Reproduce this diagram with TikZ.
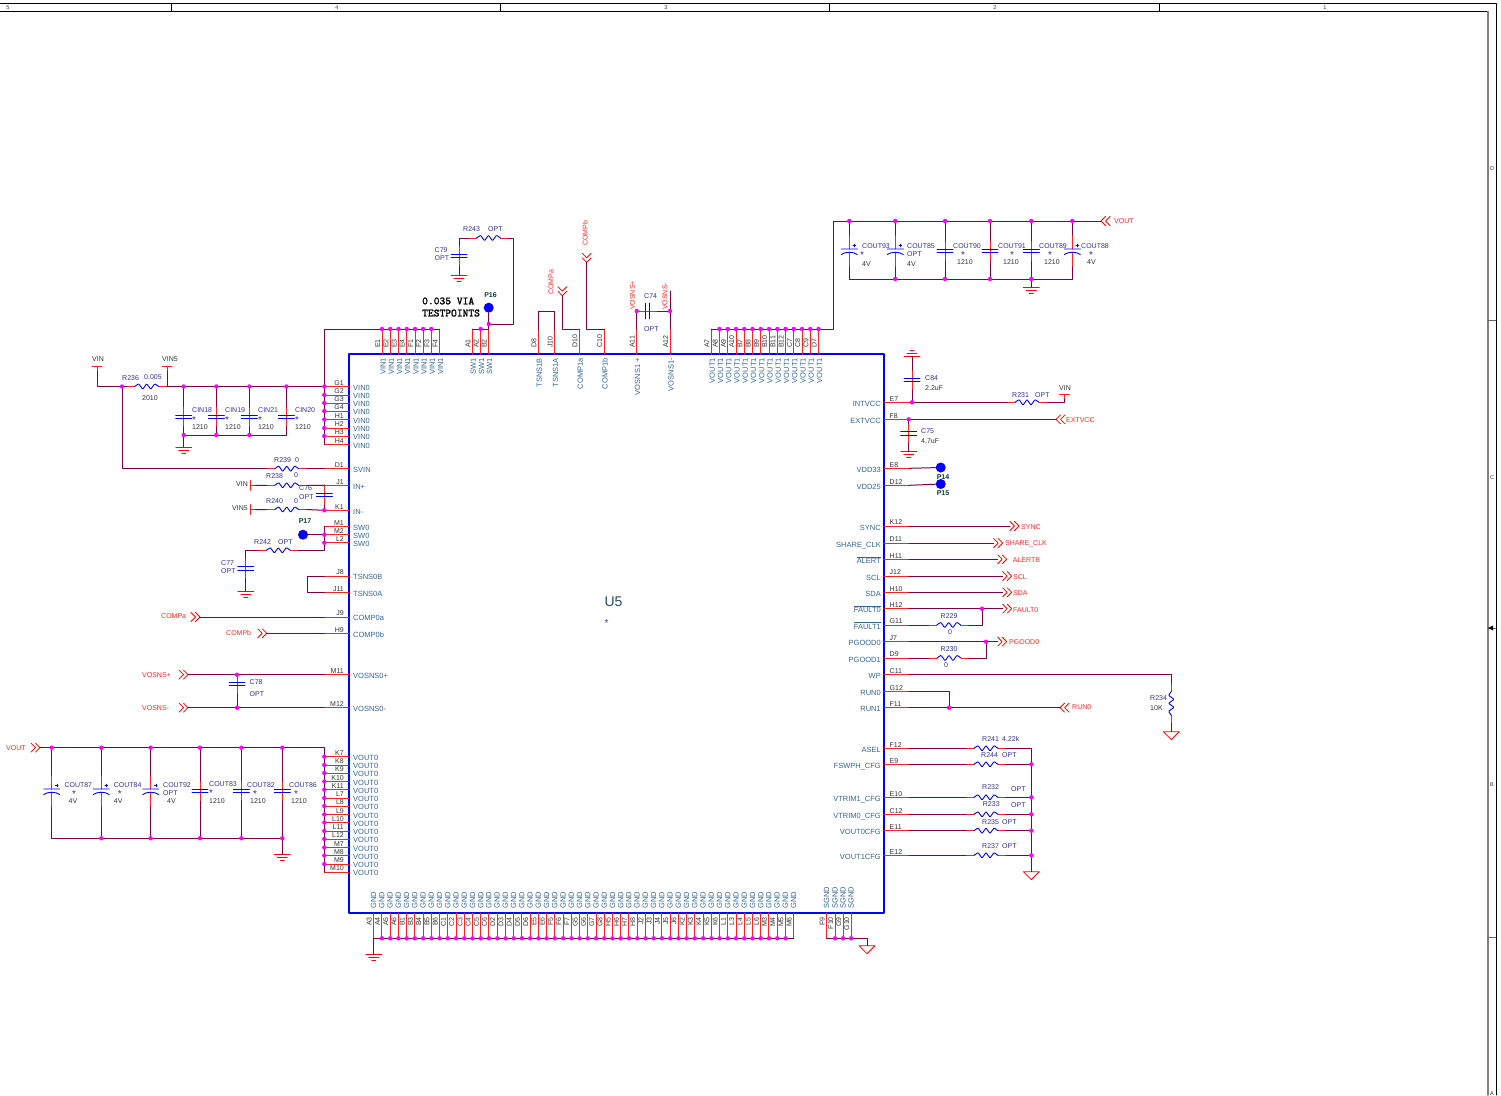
\documentclass[tikz,border=0pt]{standalone}
\usepackage{fontspec}
\setmainfont{Liberation Sans}
\setsansfont{Liberation Sans}
\newfontfamily\notefont[FakeBold=1.6]{Latin Modern Mono}
\usetikzlibrary{calc,positioning}
\definecolor{wirecol}{HTML}{800040}
\definecolor{pincol}{HTML}{FF2020}
\definecolor{boxcol}{HTML}{0000FF}
\definecolor{refcol}{HTML}{333399}
\definecolor{sigcol}{HTML}{336699}
\definecolor{numcol}{HTML}{333333}
\definecolor{netcol}{HTML}{FF2A2A}
\definecolor{dotcol}{HTML}{FF00FF}
\tikzset{
wire/.style={draw=wirecol,line width=1pt},
pinline/.style={draw=pincol,line width=1pt},
partline/.style={draw=blue,line width=.9pt},
netline/.style={draw=red,line width=.75pt},
txt/.style={font=\fontsize{7}{8}\selectfont,inner sep=0pt},
pinnum/.style={txt,text=numcol},
sigl/.style={inner sep=0pt,text=sigcol,font=\fontsize{7.5}{8}\selectfont},
reflab/.style={txt,text=refcol,anchor=west},
vallab/.style={txt,text=numcol,anchor=west},
netlab/.style={txt,text=netcol,anchor=west,yshift=-.6pt},
starlab/.style={inner sep=0pt,text=refcol,font=\fontsize{10}{10}\selectfont},
tp/.style={circle,fill=boxcol,inner sep=0pt,minimum size=10pt},
tplab/.style={txt,text=teal!50!black,font=\fontsize{7}{8}\selectfont\bfseries},
rzig/.pic={
\draw[pinline] (-20,0)--(-12,0) (12,0)--(20,0);
\draw[partline,rounded corners=.8pt] (-12,0)--(-8,-2.8)--(-4,2.8)--(0,-2.8)--(4,2.8)--(8,-2.8)--(12,0);
\coordinate (-l) at (-20,0);
\coordinate (-r) at (20,0);
},
capn/.pic={
\draw[pinline] (0,-10)--(0,10);
\draw[partline] (-8,-1.7)--(8,-1.7) (-8,1.7)--(8,1.7);
\coordinate (-a) at (0,-10);
\coordinate (-b) at (0,10);
},
capp/.pic={
\draw[pinline] (0,-16)--(0,-2) (0,1)--(0,16);
\draw[partline] (-8,-2)--(8,-2) (-8,3.5) .. controls (-4,.5) and (4,.5) .. (8,3.5);
\draw[partline,line width=.3pt] (3.5,-5.5)--(6.5,-5.5) (5,-7)--(5,-4);
\coordinate (-a) at (0,-16);
\coordinate (-b) at (0,16);
},
gnd/.pic={
\draw[netline] (-8,0)--(8,0) (-5,3)--(5,3) (-2,6)--(2,6);
\coordinate (-a) at (0,0);
},
tri/.pic={
\draw[netline] (-8,0)--(8,0)--(0,8)--cycle;
\coordinate (-a) at (0,0);
},
tbar/.pic={
\draw[pinline] (-5,0)--(5,0) (0,0)--(0,5);
\coordinate (-a) at (0,5);
},
flag/.pic={
\draw[netline] (4.5,-4.5)--(0,0)--(4.5,4.5) (9,-4.5)--(4.5,0)--(9,4.5);
\coordinate (-a) at (0,0);
\coordinate (-b) at (9,0);
},
}
\begin{document}
\begin{tikzpicture}[x=1pt,y=-1pt,line join=round,line cap=round]
\path[use as bounding box,fill=white] (0,0) rectangle (1501,1095);
% sheet frame
\draw[black,line width=.7pt] (0,3.5)--(1496,3.5)--(1496,1095) (0,11.5)--(1488,11.5);
\draw[black!50,line width=1.5pt] (1488,11.5)--(1488,1095);
\foreach \x in {171,500,829,1159}{\draw[black,line width=.7pt] (\x,3.5)--(\x,11.5);}
\foreach \y in {320,628,937}{\draw[black!60,line width=.7pt] (1488,\y)--(1496,\y);}
\fill[black] (1488,628)--(1493,625.5)--(1493,630.5)--cycle;
\foreach \k/\x in {5/8,4/337,3/666,2/995,1/1325}{\node[txt,text=numcol,font=\fontsize{5.5}{6}\selectfont] (zone\k) at (\x,7.5) {\k};}
\foreach \k/\y in {D/169,C/478,B/785,A/1094}{\node[txt,text=numcol,font=\fontsize{5.5}{6}\selectfont] (row\k) at (1492,\y) {\k};}
% U5 body
\draw[boxcol,line width=2.2pt] (349,354) rectangle (884,913);
\node[txt,text=sigcol!70!black,font=\fontsize{14}{16}\selectfont] (U5) at (613.5,601.5) {U5};
\node[starlab] (U5s) at (606.5,623.5) {*};
% left pins
\foreach \n/\y/\s in {G1/386.5/VIN0,G2/395/VIN0,G3/403/VIN0,G4/411/VIN0,H1/419.5/VIN0,H2/428/VIN0,H3/436/VIN0,H4/444.5/VIN0,D1/468.7/SVIN,J1/485.3/IN+,K1/510.3/IN-,M1/526.3/SW0,M2/534.7/SW0,L2/542.7/SW0,J8/576/TSNS0B,J11/592.3/TSNS0A,J9/617/COMP0a,H9/633.3/COMP0b,M11/674.7/VOSNS0+,M12/707.7/VOSNS0-,K7/756.7/VOUT0,K8/765/VOUT0,K9/773/VOUT0,K10/781.5/VOUT0,K11/789.7/VOUT0,L7/798/VOUT0,L8/806/VOUT0,L9/814.5/VOUT0,L10/822.5/VOUT0,L11/831/VOUT0,L12/839/VOUT0,M7/847.5/VOUT0,M8/855.5/VOUT0,M9/864/VOUT0,M10/872/VOUT0}{
\coordinate (\n) at (324.3,\y);
\draw[pinline] (349,\y)--(\n);
\node[pinnum,anchor=base east] (n\n) at (344,\y-1.3) {\n};
\node[sigl,anchor=base west] (s\n) at (353,\y+3.8) {\s};
}
% right pins
\foreach \n/\y/\s in {E7/402.3/INTVCC,F8/419.3/EXTVCC,E8/468.3/VDD33,D12/485.3/VDD25,K12/526/SYNC,D11/543/SHARE\_CLK,H11/559.3/{$\overline{\mbox{ALERT}}$},J12/576/SCL,H10/592.3/SDA,H12/608.7/{$\overline{\mbox{FAULT0}}$},G11/625/{$\overline{\mbox{FAULT1}}$},J7/641.7/PGOOD0,D9/658/PGOOD1,C11/674.7/WP,G12/691.3/RUN0,F11/707.7/RUN1,F12/748.3/ASEL,E9/764.3/FSWPH\_CFG,E10/797.3/VTRIM1\_CFG,C12/814.3/VTRIM0\_CFG,E11/830.7/VOUT0CFG,E12/855.3/VOUT1CFG}{
\coordinate (\n) at (909,\y);
\draw[pinline] (884,\y)--(\n);
\node[pinnum,anchor=base west] (n\n) at (889.5,\y-1.3) {\n};
\node[sigl,anchor=base east] (s\n) at (881,\y+4.2) {\s};
}
% top pins
\foreach \n/\x/\s in {E1/382/VIN1,E2/390.3/VIN1,E3/398.5/VIN1,E4/406.7/VIN1,F1/415/VIN1,F2/423/VIN1,F3/431.3/VIN1,F4/439.5/VIN1,A1/472.3/SW1,A2/480.7/SW1,B2/488.7/SW1,D8/538.3/TSNS1B,J10/554.7/TSNS1A,D10/579.3/COMP1a,C10/604/COMP1b,A11/636.7/VOSNS1 +,A12/670/VOSNS1-,A7/711.3/VOUT1,A8/719.5/VOUT1,A9/727.8/VOUT1,A10/736/VOUT1,B7/744.3/VOUT1,B8/752.5/VOUT1,B9/760.8/VOUT1,B10/769/VOUT1,B11/777.3/VOUT1,B12/785.5/VOUT1,C7/793.8/VOUT1,C8/802/VOUT1,C9/810.3/VOUT1,D7/818.5/VOUT1}{
\coordinate (\n) at (\x,329);
\draw[pinline] (\x,354)--(\n);
\node[pinnum,rotate=90,anchor=base west] (n\n) at (\x-2,348) {\n};
\node[sigl,rotate=90,anchor=base east] (s\n) at (\x+3.5,358) {\s};
}
% bottom pins
\foreach \n [count=\k from 0] in {A3,A4,A5,A6,B1,B3,B4,B5,B6,C1,C2,C3,C4,C5,C6,D2,D3,D4,D5,D6,E5,E6,F5,F6,F7,G5,G6,G7,G8,H5,H6,H7,H8,J2,J3,J4,J5,J6,K2,K3,K4,K5,K6,L1,L3,L4,L5,L6,M3,M4,M5,M6}{
\pgfmathsetmacro\x{373.7+8.235*\k}
\coordinate (\n) at (\x,938.3);
\draw[pinline] (\x,913)--(\n);
\node[pinnum,rotate=90,anchor=base east] (n\n) at (\x-2,917) {\n};
\node[sigl,rotate=90,anchor=base west] (s\n) at (\x+2.5,909) {GND};
}
\foreach \n/\x in {F9/826.7,F10/835,G9/843,G10/851}{
\coordinate (\n) at (\x,938.3);
\draw[pinline] (\x,913)--(\n);
\node[pinnum,rotate=90,anchor=base east] (n\n) at (\x-2,917) {\n};
\node[sigl,rotate=90,anchor=base west] (s\n) at (\x+2.5,909) {SGND};
}
% parts
\foreach \nm/\x/\y in {R236/146.7/386.5,R239/286.7/468.7,R238/286.7/485.3,R240/286.7/509.5,R242/278.3/550.3,R243/488.5/238,R231/1027/402.3,R229/948.7/625,R230/949/658,R241/986/748.3,R244/986/764.3,R232/986/797.3,R233/986/814.3,R235/986/830.7,R237/986/855.3}{\pic (\nm) at (\x,\y) {rzig};}
\pic[rotate=90] (R234) at (1171.3,703.3) {rzig};
\foreach \nm/\x/\y in {C76/324.3/495,C77/245.7/568.3,C78/237/684,C79/459/256,C84/912/380,C75/908.7/433.3}{\pic (\nm) at (\x,\y) {capn};}
\pic[rotate=90] (C74) at (647.5,311) {capn};
\foreach \nm/\x/\y in {gA/183.7/447.3,gB/245.7/591.7,gC/282.3/854.3,gD/459/275,gE/1031.3/287,gG/908.7/451.7,gH/373.7/954}{\pic (\nm) at (\x,\y) {gnd};}
\pic[rotate=180] (gF) at (912,356.7) {gnd};
\foreach \nm/\x/\y in {triA/1171.3/731.7,triB/1031.3/871.7,triC/867/945.7}{\pic (\nm) at (\x,\y) {tri};}
\pic (tVIN) at (97,366) {tbar};
\pic (tVINf) at (167,366) {tbar};
\pic[rotate=90] (tVINa) at (250,485.3) {tbar};
\pic[rotate=90] (tVINb) at (250,509.5) {tbar};
\pic (tVINc) at (1064.3,394.3) {tbar};
\node[tp] (P14) at (940.7,467.5) {};
\node[tp] (P15) at (940.7,484) {};
\node[tp] (P16) at (488.7,307.7) {};
\node[tp] (P17) at (303,534.7) {};
% net flags
\foreach \nm/\x/\y in {fVOUT/1101/221,fEXT/1056/419.3,fRUN/1060/707.7}{\pic (\nm) at (\x,\y) {flag};}
\foreach \nm/\x/\y in {fCOMPa/200/617,fCOMPb/266.7/633.3,fVP/188/674.7,fVM/188/707.7,fVO/40/747.7,fSYNC/1019/526,fSHR/1002.7/543,fALR/1006.7/559.3,fSCL/1011.7/576,fSDA/1011.7/592.3,fFLT/1011.7/608.7,fPG/1006.7/641.7}{\pic[rotate=180] (\nm) at (\x,\y) {flag};}
\pic[rotate=90] (fCa) at (562.3,295.7) {flag};
\pic[rotate=90] (fCb) at (586.7,262.3) {flag};
% junction points
\foreach \nm/\x/\y in {jA/122/386.5,jB/488.7/324,jD/636.7/311,jE/670/311,jF/912/402.3,jG/908.7/419.3,jH/982/608.7,jI/986/641.7,jJ/949/707.7,jK/237/674.7,jL/237/707.7,jM/1031.3/764.3,jN/1031.3/797.3,jO/1031.3/814.3,jP/1031.3/830.7,jQ/1031.3/855.3}{\coordinate (\nm) at (\x,\y);}
\coordinate (cT) at (833.5,221);
\coordinate (cR) at (513,238);
\coordinate (cA) at (670,291);
\coordinate (cL) at (1031.3,748.3);
% capacitor rows
\foreach \nm/\x/\kind in {CIN18/183.7/capn,CIN19/216.3/capn,CIN21/249.3/capn,CIN20/286.3/capn}{
\pic (\nm) at (\x,416.7) {capn};
\coordinate (\nm t) at (\x,386.5);
\coordinate (\nm b) at (\x,435);
\draw[wire] (\nm t)--(\nm-a) (\nm-b)--(\nm b);
}
\foreach \nm/\x/\kind in {COUT87/51.7/capp,COUT84/101.3/capp,COUT92/150.7/capp,COUT83/200/capn,COUT82/241.3/capn,COUT86/282.3/capn}{
\pic (\nm) at (\x,791) {\kind};
\coordinate (\nm t) at (\x,747.7);
\coordinate (\nm b) at (\x,838.3);
\draw[wire] (\nm t)--(\nm-a) (\nm-b)--(\nm b);
}
\foreach \nm/\x/\kind in {COUT93/849.3/capp,COUT85/895.3/capp,COUT90/945/capn,COUT91/990/capn,COUT89/1031.3/capn,COUT88/1072.3/capp}{
\pic (\nm) at (\x,251) {\kind};
\coordinate (\nm t) at (\x,221);
\coordinate (\nm b) at (\x,279);
\draw[wire] (\nm t)--(\nm-a) (\nm-b)--(\nm b);
}
% left side wires
\draw[wire] (tVIN-a) |- (jA)--(R236-l) (R236-r)--(G1) (tVINf-a) |- (R236-r);
\draw[wire] (CIN18b)--(CIN20b) (CIN18b)--(gA-a) (G1)--(H4) (G1) |- (E1) (E1)--(F4);
\draw[wire] (jA) |- (R239-l) (R239-r)--(D1);
\draw[wire] (tVINa-a)--(R238-l) (R238-r)--(J1)--(C76-a) (C76-b)--(K1) (tVINb-a)--(R240-l) (R240-r)--(K1);
\draw[wire] (M1)--(L2) (P17)--(M2) (L2) |- (R242-r) (R242-l) -| (C77-a) (C77-b)--(gB-a);
\draw[wire] (J8) -- ++(-17,0) |- (J11);
\draw[wire] (fCOMPa-a)--(J9) (fCOMPb-a)--(H9) (fVP-a)--(M11) (fVM-a)--(M12) (jK)--(C78-a) (C78-b)--(jL);
\draw[wire] (fVO-a) -| (K7) (K7)--(M10) (COUT87b)--(COUT86b) (COUT86b)--(gC-a);
% top wires
\draw[wire] (A1)--(B2)--(P16) (jB) -| (cR)--(R243-r) (R243-l) -| (C79-a) (C79-b)--(gD-a);
\draw[wire] (D8) |- (J10 |- jD)--(J10);
\draw[wire] (D10) -| (fCa-a) (C10) -| (fCb-a);
\draw[wire] (A11)--(jD)--(C74-a) (C74-b)--(jE) (A12)--(cA);
\draw[wire] (A7)--(D7) (D7) -| (cT)--(fVOUT-a) (COUT93b)--(COUT88b) (COUT89b)--(gE-a);
% right side wires
\draw[wire] (E7)--(R231-l) (R231-r) -| (tVINc-a) (gF-a)--(C84-a) (C84-b)--(jF);
\draw[wire] (F8)--(fEXT-a) (jG)--(C75-a) (C75-b)--(gG-a);
\draw[wire] (E8)--(P14) (D12)--(P15);
\draw[wire] (K12)--(fSYNC-b) (D11)--(fSHR-b) (H11)--(fALR-b) (J12)--(fSCL-b) (H10)--(fSDA-b) (H12)--(fFLT-b) (J7)--(fPG-b);
\draw[wire] (G11)--(R229-l) (R229-r) -| (jH) (D9)--(R230-l) (R230-r) -| (jI);
\draw[wire] (C11) -| (R234-r) (R234-l)--(triA-a);
\draw[wire] (G12) -| (jJ) (F11)--(fRUN-a);
\draw[wire] (F12)--(R241-l) (R241-r)--(cL)--(triB-a) (E9)--(R244-l) (R244-r)--(jM) (E10)--(R232-l) (R232-r)--(jN) (C12)--(R233-l) (R233-r)--(jO) (E11)--(R235-l) (R235-r)--(jP) (E12)--(R237-l) (R237-r)--(jQ);
% bottom wires
\draw[wire] (A3)--(M6) (A3)--(gH-a) (F9)--(G10) (G10) -| (triC-a);
% junction dots
\foreach \i in {jA,jB,jD,jE,jF,jG,jH,jI,jJ,jK,jL,jM,jN,jO,jP,jQ,G1,G2,G3,G4,H1,H2,H3,K1,M2,L2,K7,K8,K9,K10,K11,L7,L8,L9,L10,L11,L12,M7,M8,M9,E1,E2,E3,E4,F1,F2,F3,A2,CIN18t,CIN19t,CIN21t,CIN20t,CIN18b,CIN19b,CIN21b,COUT87t,COUT84t,COUT92t,COUT83t,COUT82t,COUT86t,COUT84b,COUT92b,COUT83b,COUT82b,COUT86b,COUT93t,COUT85t,COUT90t,COUT91t,COUT89t,COUT88t,COUT85b,COUT90b,COUT91b,COUT89b,A8,A9,A10,B7,B8,B9,B10,B11,B12,C7,C8,C9,D7,A4,A5,A6,B1,B3,B4,B5,B6,C1,C2,C3,C4,C5,C6,D2,D3,D4,D5,D6,E5,E6,F5,F6,F7,G5,G6,G7,G8,H5,H6,H7,H8,J2,J3,J4,J5,J6,K2,K3,K4,K5,K6,L1,L3,L4,L5,L6,M3,M4,M5,F10,G9,G10}{\fill[dotcol] (\i) circle (2.2pt);}
% part labels
\foreach \s/\x/\y [count=\k] in {R236/122/378,0.005/144/377,CIN18/192/410,CIN19/225/410,CIN21/258/410,CIN20/295/410,R239/274/460,0/295/460,R238/266/476,0/294/475,C76/299/488,OPT/299/497,R240/266/501,0/294/501,R242/254/542,OPT/278/542,C77/221/563,OPT/221/571,C78/249.5/682,OPT/249.5/694,COUT87/64.3/785,COUT84/113.7/785,COUT92/163/785,OPT/163/793,COUT83/209/784,COUT82/247/785,COUT86/289/785,R243/463/229,OPT/488/229,C79/434.5/250,OPT/434.5/258,C74/644/296,OPT/644/329,COUT93/862/246,COUT85/907/246,OPT/907/254,COUT90/953/246,COUT91/998/246,COUT89/1039/246,COUT88/1081/246,C84/925/378,R231/1012/395,OPT/1035/395,C75/921/431,R229/940.5/616,0/948/632,R230/940.5/649,0/944/665,R234/1150/698,R241/982/739,4.22k/1002/739,R244/981/755.5,OPT/1002/755.5,R232/982/787,OPT/1011/789,R233/982.7/804,OPT/1011/805,R235/982/822,OPT/1002/822,R237/982/846,OPT/1002/846}{
\node[reflab] (lr\k) at (\x,\y) {\s};
}
\foreach \s/\x/\y [count=\k] in {VIN/92/359,VIN5/162/359,2010/142/398,1210/192/427,1210/225/427,1210/258/427,1210/295/427,VIN/236/484,VIN5/232/508,4V/68.5/801,4V/113.7/801,4V/167/801,1210/209/801,1210/250/801,1210/291/801,4V/862/264,4V/907/264,1210/957/262,1210/1003/262,1210/1044/262,4V/1087/262,2.2uF/925/388,4.7uF/921/441,VIN/1059/388,10K/1150/708}{
\node[vallab] (lv\k) at (\x,\y) {\s};
}
\foreach \x/\y [count=\k] in {194/420,227/420,260/420,297/420,74/794,119.7/794,211/793,255/794,296/794,862/255,963/255,1012/255,1050/255,1091/255}{
\node[starlab] (ls\k) at (\x,\y) {*};
}
\foreach \n/\x/\y in {P14/943/477,P15/943/493,P16/490.5/295.5,P17/305/521}{\node[tplab] (l\n) at (\x,\y) {\n};}
% net names
\foreach \s/\x/\y [count=\k] in {VOUT/1114/220.5,EXTVCC/1066/419.5,SYNC/1021/526.5,SHARE\_CLK/1005/543.5,ALERTB/1012.7/559.5,SCL/1013/576.5,SDA/1013/592.5,FAULT0/1013/609,PGOOD0/1009/641.5,RUN0/1072/706.5,COMPa/161/615.5,COMPb/226/632.5,VOSNS+/142/674.5,VOSNS-/142/707.5,VOUT/6/747}{
\node[netlab] (ln\k) at (\x,\y) {\s};
}
\node[txt,text=netcol,rotate=90,anchor=west] (lCa) at (551,295) {COMPa};
\node[txt,text=netcol,rotate=90,anchor=west] (lCb) at (585,246) {COMPb};
\node[txt,text=netcol,rotate=90,anchor=west] (lVp) at (632.5,310) {VOSNS+};
\node[txt,text=netcol,rotate=90,anchor=west] (lVm) at (665,310) {VOSNS-};
% note
\node[inner sep=0pt,anchor=west,align=left,font=\fontsize{11}{12}\notefont] (note) at (422,307) {0.035 VIA\\[.1pt]TESTPOINTS};
\end{tikzpicture}
\end{document}
